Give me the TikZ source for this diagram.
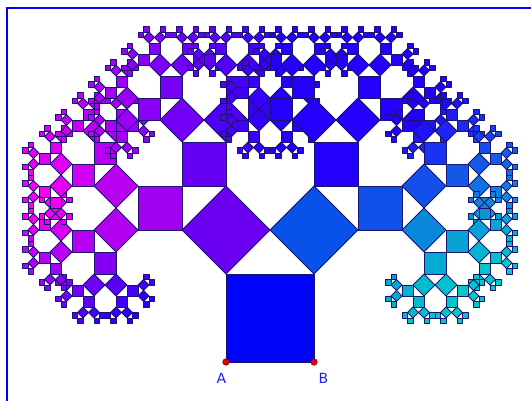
\documentclass[tikz,border=0pt]{standalone}
\usepackage{fontspec}
\newfontfamily\labelfont{DejaVu Sans}
\newcount\pmaxlev
\pmaxlev=8
\tikzset{
  sq/.style={draw={rgb,255:red,25;green,20;blue,110}, line width=0.8pt, line join=round},
  pt/.style={circle, fill={rgb,255:red,235;green,0;blue,0}, draw={rgb,255:red,110;green,0;blue,0}, line width=0.6pt, inner sep=0pt, minimum size=6.5pt},
  lbl/.style={text={rgb,255:red,30;green,30;blue,255}, font=\labelfont\fontsize{14}{16}\selectfont, inner sep=0pt},
  frame/.style={draw={rgb,255:red,0;green,0;blue,255}, line width=2pt}
}
\newcommand\pyth[5]{%
\begingroup
\pgfmathsetmacro\pdx{#3-#1}%
\pgfmathsetmacro\pdy{#4-#2}%
\pgfmathsetmacro\pPx{#1-\pdy}%
\pgfmathsetmacro\pPy{#2+\pdx}%
\pgfmathsetmacro\pQx{#3-\pdy}%
\pgfmathsetmacro\pQy{#4+\pdx}%
\pgfmathsetmacro\pAx{\pPx+(\pdx-\pdy)/2}%
\pgfmathsetmacro\pAy{\pPy+(\pdy+\pdx)/2}%
\pgfmathsetmacro\pcx{#1+(\pdx-\pdy)/2-44}%
\pgfmathsetmacro\pcy{#2+(\pdy+\pdx)/2-132}%
\pgfmathsetmacro\pdist{100*sqrt((\pcx/100)*(\pcx/100)+(\pcy/100)*(\pcy/100))}%
\pgfmathsetmacro\ps{min(1,0.35+\pdist/350)}%
\ifdim\pcx pt<-0.5pt
  \pgfmathsetmacro\pphi{atan2(\pcy,-\pcx)}%
  \pgfmathsetmacro\pw{(\pphi>=5) ? (1-0.7*(\pphi-5)/80) : (max(0.15,1-0.8*(5-\pphi)/35))}%
  \pgfmathtruncatemacro\pr{min(255,255*\pw*\ps)}%
  \pgfmathtruncatemacro\pg{0}%
  \pgfmathtruncatemacro\pb{255-15*\pw}%
\else\ifdim\pcx pt>0.5pt
  \pgfmathsetmacro\ppsi{atan2(\pcy,\pcx)}%
  \pgfmathsetmacro\pw{(\ppsi<=-20) ? 1 : ((\ppsi<=0) ? (0.75+0.25*(-\ppsi)/20) : (max(0,0.75*(1-\ppsi/38))))}%
  \pgfmathtruncatemacro\pr{35*(1-\pw)}%
  \pgfmathtruncatemacro\pg{min(200,230*\pw*\ps)}%
  \pgfmathtruncatemacro\pb{255-60*\pw*\ps}%
\else
  \def\pr{0}\def\pg{5}\def\pb{250}%
\fi\fi
\fill[sq, fill={rgb,255:red,\pr;green,\pg;blue,\pb}] (#1,#2) -- (#3,#4) -- (\pQx,\pQy) -- (\pPx,\pPy) -- cycle;
\ifnum#5<\pmaxlev
  \edef\pnext{\noexpand\pyth{\pPx}{\pPy}{\pAx}{\pAy}{\the\numexpr#5+1\relax}\noexpand\pyth{\pAx}{\pAy}{\pQx}{\pQy}{\the\numexpr#5+1\relax}}%
  \pnext
\fi
\endgroup}
\begin{document}
\begin{tikzpicture}[x=1pt,y=1pt]
\useasboundingbox (-226,-39) rectangle (305,362);
\fill[white] (-226,-39) rectangle (305,362);
\begin{scope}
\clip (-226,-39) rectangle (305,362);
\coordinate (fbl) at (-219.3,-50);
\coordinate (ftl) at (-219.3,353.7);
\coordinate (ftr) at (320,353.7);
\draw[frame] (fbl) -- (ftl) -- (ftr);
\end{scope}
\pyth{0}{0}{88}{0}{0}
\node[pt] (A) at (0,0) {};
\node[pt] (B) at (88,0) {};
\node[lbl] (la) at (-4.7,-16.5) {A};
\node[lbl] (lb) at (97.4,-16.5) {B};
\end{tikzpicture}
\end{document}
